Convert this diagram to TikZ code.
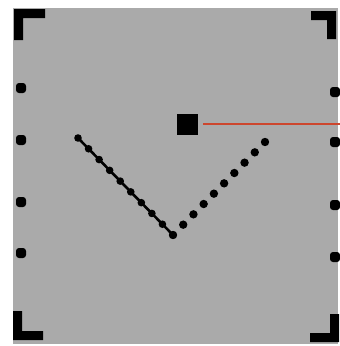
\documentclass[tikz,border=0pt]{standalone}
\definecolor{screen}{RGB}{170,170,170}
\definecolor{wire}{RGB}{205,70,45}
\begin{document}
\begin{tikzpicture}[x=1pt,y=-1pt,
  vdot/.style={fill=black},
  edgedot/.style={fill=black,rounded corners=3pt},
  bracket/.style={fill=black}]
\useasboundingbox (0,0) rectangle (340,346);
\fill[white] (0,0) rectangle (340,346);
\fill[screen] (13,8) rectangle (338,344);
% corner brackets
\fill[bracket] (14,9) -- (45,9) -- (45,18) -- (23,18) -- (23,40) -- (14,40) -- cycle;
\fill[bracket] (336,11) -- (311,11) -- (311,20) -- (327,20) -- (327,39) -- (336,39) -- cycle;
\fill[bracket] (13,311) -- (22,311) -- (22,331) -- (43,331) -- (43,340) -- (13,340) -- cycle;
\fill[bracket] (339,314) -- (330,314) -- (330,333) -- (310,333) -- (310,342) -- (339,342) -- cycle;
% side dots
\foreach \y in {88,140,202,253} \fill[edgedot] (16,\y-5) rectangle (26,\y+5);
\foreach \y in {92,142,205,257} \fill[edgedot] (330,\y-5) rectangle (340,\y+5);
% V of dots
\draw[line width=2.6pt] (78,138) -- (173,235);
\foreach \i in {0,...,9} \fill[vdot] ({78+95*\i/9},{138+97*\i/9}) circle[radius=3.8pt];
\foreach \i in {0,...,9} \fill[vdot] ({173+92*\i/9},{235-93*\i/9}) circle[radius=4.2pt];
% square and red line
\node[fill=black,inner sep=0pt,minimum size=21pt] (sq) at (187.5,124.5) {};
\coordinate (wend) at (340,124);
\draw[wire,line width=2pt] ([xshift=5pt]sq.east |- wend) -- (wend);
\end{tikzpicture}
\end{document}
